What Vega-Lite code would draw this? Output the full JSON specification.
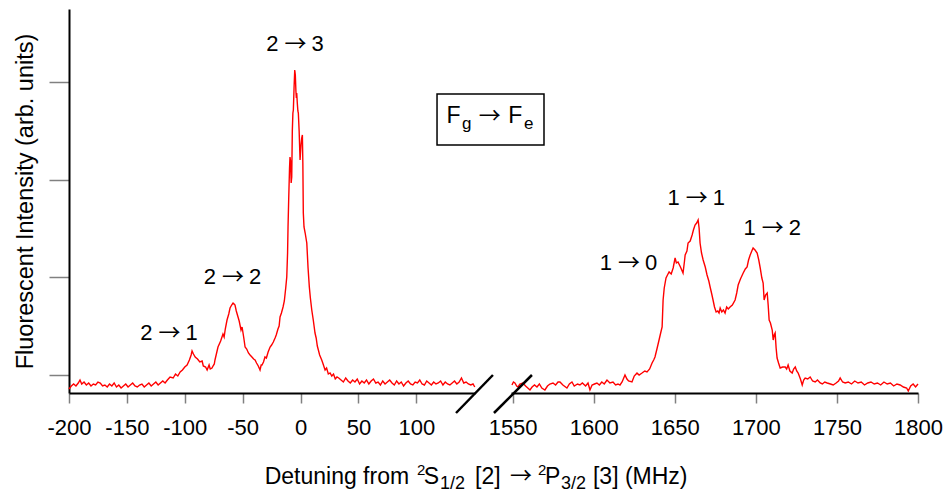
{
  "$schema": "https://vega.github.io/schema/vega-lite/v6.json",
  "width": 849,
  "height": 384,
  "autosize": {"type": "none"},
  "padding": {"left": 69, "top": 9, "right": 27, "bottom": 100},
  "background": "white",
  "config": {
    "view": {"stroke": null},
    "font": "Liberation Sans",
    "axis": {
      "grid": false,
      "domainColor": "#000000",
      "domainWidth": 2,
      "tickColor": "#808080",
      "tickWidth": 1.5,
      "labelColor": "#000000",
      "labelFont": "Liberation Sans",
      "labelFontSize": 22,
      "labelFlush": false,
      "labelOverlap": false,
      "labelExpr": "'' + datum.value",
      "titleFont": "Liberation Sans",
      "titleFontWeight": "normal",
      "titleColor": "#000000"
    }
  },
  "datasets": {
    "left": [
      {"x":-200,"y":4},{"x":-198,"y":7},{"x":-196,"y":9},{"x":-194,"y":7},{"x":-192,"y":10},{"x":-190.5,"y":13},{"x":-189,"y":9},{"x":-187,"y":11},{"x":-185,"y":8},{"x":-183,"y":10},{"x":-181,"y":7},{"x":-179,"y":9},{"x":-177,"y":8},{"x":-175,"y":11},{"x":-173,"y":10},{"x":-171,"y":7},{"x":-169,"y":8},{"x":-167,"y":6},{"x":-165,"y":9},{"x":-163,"y":7},{"x":-161,"y":10},{"x":-159,"y":6},{"x":-157,"y":8},{"x":-155,"y":5},{"x":-153,"y":7},{"x":-151,"y":9},{"x":-149,"y":6},{"x":-147,"y":8},{"x":-145,"y":10},{"x":-143,"y":7},{"x":-141,"y":6},{"x":-139,"y":8},{"x":-137,"y":9},{"x":-135,"y":6},{"x":-133,"y":8},{"x":-131,"y":10},{"x":-129,"y":7},{"x":-127,"y":9},{"x":-125,"y":11},{"x":-123,"y":8},{"x":-121,"y":10},{"x":-119,"y":12},{"x":-117,"y":10},{"x":-115,"y":13},{"x":-112.7,"y":16},{"x":-110,"y":15},{"x":-108,"y":19},{"x":-106,"y":17},{"x":-104,"y":21},{"x":-102,"y":23},{"x":-100,"y":26},{"x":-98,"y":28},{"x":-96,"y":33},{"x":-94.5,"y":38},{"x":-93.7,"y":42},{"x":-92.5,"y":39},{"x":-91,"y":36},{"x":-89,"y":34},{"x":-87,"y":31},{"x":-85,"y":32},{"x":-84,"y":27},{"x":-82,"y":26},{"x":-80.7,"y":23},{"x":-79,"y":28},{"x":-78,"y":24},{"x":-76.5,"y":25},{"x":-75.6,"y":27},{"x":-74.5,"y":29},{"x":-73.9,"y":33},{"x":-72.5,"y":40},{"x":-71.3,"y":46},{"x":-69,"y":52},{"x":-67,"y":59},{"x":-66,"y":56},{"x":-65,"y":64},{"x":-63.5,"y":73},{"x":-62,"y":79},{"x":-60.9,"y":85},{"x":-59.5,"y":88},{"x":-58.3,"y":90},{"x":-57.4,"y":89},{"x":-56.6,"y":88},{"x":-55.5,"y":82},{"x":-54,"y":76},{"x":-53,"y":72},{"x":-51.4,"y":63},{"x":-50.5,"y":66},{"x":-49,"y":55},{"x":-47.9,"y":46},{"x":-46.5,"y":44},{"x":-45,"y":40},{"x":-43.6,"y":38},{"x":-42,"y":36},{"x":-40.5,"y":34},{"x":-39.3,"y":33},{"x":-38,"y":30},{"x":-36.5,"y":27},{"x":-35,"y":23},{"x":-34,"y":28},{"x":-33.3,"y":28},{"x":-32,"y":31},{"x":-30.7,"y":36},{"x":-29.5,"y":35},{"x":-28,"y":41},{"x":-26.3,"y":46},{"x":-25,"y":48},{"x":-23.5,"y":51},{"x":-22,"y":55},{"x":-21,"y":58},{"x":-19.5,"y":64},{"x":-18.5,"y":67},{"x":-17.7,"y":76},{"x":-16.5,"y":80},{"x":-15.1,"y":86},{"x":-14,"y":92},{"x":-12.8,"y":105},{"x":-11.9,"y":116},{"x":-11.2,"y":140},{"x":-10.8,"y":166},{"x":-10.2,"y":195},{"x":-9.5,"y":225},{"x":-9.1,"y":236},{"x":-8.6,"y":232},{"x":-8.1,"y":210},{"x":-7.6,"y":216},{"x":-7.1,"y":262},{"x":-6.6,"y":280},{"x":-6.2,"y":283},{"x":-5.6,"y":305},{"x":-5.0,"y":323},{"x":-4.5,"y":318},{"x":-4.0,"y":302},{"x":-3.6,"y":295},{"x":-3.3,"y":300},{"x":-2.8,"y":290},{"x":-2.3,"y":282},{"x":-1.9,"y":280},{"x":-1.2,"y":262},{"x":-0.6,"y":240},{"x":-0.4,"y":233},{"x":0.4,"y":248},{"x":1.0,"y":255},{"x":1.6,"y":258},{"x":2.0,"y":230},{"x":2.4,"y":180},{"x":3.0,"y":166},{"x":4.0,"y":160},{"x":5.4,"y":150},{"x":6.5,"y":125},{"x":7.6,"y":106},{"x":8.5,"y":95},{"x":9.7,"y":83},{"x":11,"y":73},{"x":12.5,"y":60},{"x":13.5,"y":55},{"x":14.5,"y":47},{"x":15.4,"y":43},{"x":16.5,"y":38},{"x":18.3,"y":33},{"x":19.5,"y":29},{"x":21.2,"y":23},{"x":22.5,"y":25},{"x":24,"y":19},{"x":25.5,"y":20},{"x":27,"y":17},{"x":28.5,"y":19},{"x":30,"y":14},{"x":31.5,"y":16},{"x":33,"y":15},{"x":35,"y":13},{"x":37,"y":11},{"x":39,"y":15},{"x":41,"y":12},{"x":43,"y":10},{"x":45,"y":13},{"x":47,"y":11},{"x":49,"y":14},{"x":51,"y":9},{"x":53,"y":12},{"x":55,"y":10},{"x":57,"y":13},{"x":59,"y":9},{"x":61,"y":12},{"x":63,"y":14},{"x":65,"y":10},{"x":67,"y":11},{"x":69,"y":8},{"x":71,"y":12},{"x":73,"y":9},{"x":75,"y":11},{"x":77,"y":13},{"x":79,"y":10},{"x":81,"y":8},{"x":83,"y":12},{"x":85,"y":9},{"x":87,"y":11},{"x":89,"y":7},{"x":91,"y":10},{"x":93,"y":12},{"x":95,"y":9},{"x":97,"y":8},{"x":99,"y":11},{"x":101,"y":10},{"x":103,"y":13},{"x":105,"y":9},{"x":107,"y":8},{"x":109,"y":12},{"x":111,"y":10},{"x":113,"y":8},{"x":115,"y":11},{"x":117,"y":9},{"x":119,"y":10},{"x":121,"y":12},{"x":123,"y":8},{"x":125,"y":11},{"x":127,"y":9},{"x":129,"y":8},{"x":131,"y":10},{"x":133,"y":12},{"x":135,"y":9},{"x":137,"y":11},{"x":139,"y":15},{"x":141,"y":10},{"x":143,"y":11},{"x":145,"y":9},{"x":147,"y":8},{"x":149,"y":9},{"x":150.5,"y":6}
    ],
    "right": [
      {"x":1549.6,"y":8},{"x":1550.5,"y":11},{"x":1551.4,"y":10},{"x":1552.5,"y":7},{"x":1553.3,"y":6},{"x":1554.5,"y":9},{"x":1556.3,"y":10},{"x":1558,"y":7},{"x":1560.7,"y":3},{"x":1562,"y":6},{"x":1563.5,"y":8},{"x":1565,"y":6},{"x":1566.5,"y":9},{"x":1568,"y":5},{"x":1569.9,"y":3},{"x":1571.5,"y":7},{"x":1573,"y":9},{"x":1574.9,"y":10},{"x":1576.5,"y":8},{"x":1578,"y":11},{"x":1579.2,"y":11},{"x":1581,"y":8},{"x":1583.5,"y":5},{"x":1585,"y":9},{"x":1586.6,"y":11},{"x":1588,"y":7},{"x":1590,"y":9},{"x":1591.5,"y":8},{"x":1593,"y":10},{"x":1595,"y":7},{"x":1596.5,"y":10},{"x":1597.7,"y":3},{"x":1599,"y":8},{"x":1600.5,"y":9},{"x":1602,"y":10},{"x":1603.5,"y":8},{"x":1605,"y":11},{"x":1606.5,"y":9},{"x":1608.2,"y":13},{"x":1610,"y":10},{"x":1611.9,"y":11},{"x":1613.5,"y":8},{"x":1615,"y":9},{"x":1616.2,"y":8},{"x":1617.5,"y":11},{"x":1619.3,"y":18},{"x":1620.5,"y":14},{"x":1621.5,"y":12},{"x":1623.6,"y":11},{"x":1625,"y":17},{"x":1626.7,"y":20},{"x":1628,"y":18},{"x":1629.8,"y":20},{"x":1631.5,"y":22},{"x":1632.9,"y":21},{"x":1634.5,"y":24},{"x":1636,"y":30},{"x":1637,"y":33},{"x":1637.8,"y":36},{"x":1639,"y":44},{"x":1640.3,"y":53},{"x":1641.3,"y":60},{"x":1642.2,"y":66},{"x":1642.8,"y":93},{"x":1643.5,"y":105},{"x":1644.6,"y":115},{"x":1645.5,"y":118},{"x":1646.5,"y":121},{"x":1647.8,"y":119},{"x":1649.0,"y":125},{"x":1650.2,"y":135},{"x":1651,"y":130},{"x":1652.0,"y":131},{"x":1653.5,"y":126},{"x":1655.1,"y":120},{"x":1656,"y":132},{"x":1656.4,"y":138},{"x":1657.5,"y":142},{"x":1658.2,"y":150},{"x":1659.5,"y":152},{"x":1660.7,"y":158},{"x":1661.5,"y":163},{"x":1662.5,"y":168},{"x":1663.5,"y":170},{"x":1664.4,"y":173},{"x":1665,"y":165},{"x":1665.6,"y":150},{"x":1666.5,"y":140},{"x":1667.5,"y":133},{"x":1668.8,"y":126},{"x":1669.9,"y":118},{"x":1671,"y":112},{"x":1671.8,"y":106},{"x":1672.8,"y":99},{"x":1673.6,"y":93},{"x":1674.5,"y":86},{"x":1675.5,"y":81},{"x":1676.5,"y":82},{"x":1677.3,"y":80},{"x":1678.0,"y":85},{"x":1679,"y":81},{"x":1680,"y":83},{"x":1681.0,"y":80},{"x":1682,"y":86},{"x":1683,"y":84},{"x":1684.1,"y":86},{"x":1685.5,"y":88},{"x":1687.2,"y":93},{"x":1688.2,"y":100},{"x":1689.1,"y":108},{"x":1690.5,"y":114},{"x":1692.2,"y":120},{"x":1693.5,"y":124},{"x":1694.6,"y":126},{"x":1695.5,"y":133},{"x":1696.5,"y":138},{"x":1697.5,"y":142},{"x":1698.3,"y":145},{"x":1699.5,"y":143},{"x":1700.8,"y":140},{"x":1701.8,"y":133},{"x":1702.7,"y":125},{"x":1703.7,"y":115},{"x":1704.5,"y":110},{"x":1705.1,"y":93},{"x":1706,"y":98},{"x":1707.0,"y":100},{"x":1707.6,"y":88},{"x":1708.2,"y":73},{"x":1709,"y":70},{"x":1710.1,"y":63},{"x":1710.7,"y":53},{"x":1711.3,"y":58},{"x":1711.9,"y":60},{"x":1712.5,"y":45},{"x":1713.1,"y":35},{"x":1714,"y":30},{"x":1715.0,"y":25},{"x":1716.5,"y":26},{"x":1718.1,"y":26},{"x":1719,"y":24},{"x":1719.9,"y":28},{"x":1721,"y":22},{"x":1722.4,"y":20},{"x":1723.3,"y":24},{"x":1724.3,"y":26},{"x":1725.2,"y":22},{"x":1726.1,"y":20},{"x":1727.5,"y":14},{"x":1728.6,"y":8},{"x":1729.5,"y":13},{"x":1730.4,"y":15},{"x":1732,"y":14},{"x":1733.5,"y":16},{"x":1735,"y":12},{"x":1736.6,"y":11},{"x":1738,"y":13},{"x":1739.7,"y":10},{"x":1741,"y":9},{"x":1742.5,"y":11},{"x":1744.0,"y":10},{"x":1746,"y":9},{"x":1747.7,"y":8},{"x":1749.5,"y":10},{"x":1751,"y":12},{"x":1752.0,"y":15},{"x":1753.5,"y":11},{"x":1755.1,"y":10},{"x":1757,"y":11},{"x":1759,"y":9},{"x":1761,"y":12},{"x":1763,"y":10},{"x":1765,"y":11},{"x":1767,"y":8},{"x":1769,"y":10},{"x":1771,"y":11},{"x":1773,"y":9},{"x":1775,"y":10},{"x":1777,"y":8},{"x":1779,"y":11},{"x":1781,"y":9},{"x":1783,"y":10},{"x":1785,"y":7},{"x":1787,"y":9},{"x":1789,"y":8},{"x":1791,"y":6},{"x":1793,"y":5},{"x":1794,"y":2},{"x":1795.5,"y":7},{"x":1797,"y":9},{"x":1798.5,"y":6},{"x":1800,"y":9}
    ],
    "leftLabels": [
      {"x":-113.1,"y":60,"a":"2","b":"1"},
      {"x":-58.3,"y":116,"a":"2","b":"2"},
      {"x":-4.3,"y":349,"a":"2","b":"3"}
    ],
    "rightLabels": [
      {"x":1621.8,"y":130,"a":"1","b":"0"},
      {"x":1663.5,"y":195,"a":"1","b":"1"},
      {"x":1710.4,"y":165,"a":"1","b":"2"}
    ],
    "bigPieces": [
      {"x":126,"y":270,"t":"F"},
      {"x":179.5,"y":270,"t":"F"},
      {"x":-31,"y":-91,"t":"Detuning from"},
      {"x":106.5,"y":-91,"t":"S"},
      {"x":150.7,"y":-91,"t":"[2]"},
      {"x":211.1,"y":-91,"t":"P"},
      {"x":252.6,"y":-91,"t":"[3] (MHz)"}
    ],
    "supPieces": [
      {"x":100.5,"y":-82,"t":"2"},
      {"x":205.1,"y":-82,"t":"2"}
    ],
    "subPieces": [
      {"x":139.5,"y":264,"t":"g"},
      {"x":193.1,"y":264,"t":"e"}
    ],
    "titleSubPieces": [
      {"x":120.5,"y":-96,"t":"1/2"},
      {"x":224.9,"y":-96,"t":"3/2"}
    ],
    "arrows": [
      {"x":163.4,"y":277},
      {"x":190.4,"y":-83}
    ],
    "box": [{"x":117.9,"x2":210.3,"y":248,"y2":299}],
    "slashL": [{"x":134.3,"x2":166.2,"y":-20,"y2":18}],
    "slashR": [{"x":1538.5,"x2":1561.9,"y":-20,"y2":18}]
  },
  "encoding": {
    "y": {
      "field": "y",
      "type": "quantitative",
      "scale": {"domain": [0, 384], "nice": false, "zero": false},
      "axis": {
        "values": [18, 116, 213, 311],
        "labels": false,
        "tickSize": 20,
        "title": "Fluorescent Intensity (arb. units)",
        "titleFontSize": 23.5,
        "titlePadding": 11
      }
    }
  },
  "layer": [
    {
      "encoding": {
        "x": {
          "field": "x",
          "type": "quantitative",
          "scale": {"domain": [-200, 150.7], "range": [0, 406], "nice": false, "zero": false},
          "axis": {
            "values": [-200, -150, -100, -50, 0, 50, 100],
            "orient": "bottom",
            "tickSize": 10,
            "labelPadding": 14,
            "title": null
          }
        }
      },
      "layer": [
        {
          "data": {"name": "left"},
          "mark": {"type": "line", "color": "#ff0000", "strokeWidth": 1.4, "interpolate": "linear"}
        },
        {
          "data": {"name": "leftLabels"},
          "mark": {"type": "text", "fontSize": 22, "align": "right", "baseline": "middle", "dx": -17, "color": "#000000"},
          "encoding": {"text": {"field": "a"}}
        },
        {
          "data": {"name": "leftLabels"},
          "mark": {"type": "text", "fontSize": 22, "font": "Noto Sans CJK JP", "align": "center", "baseline": "middle", "color": "#000000", "text": "→"}
        },
        {
          "data": {"name": "leftLabels"},
          "mark": {"type": "text", "fontSize": 22, "align": "left", "baseline": "middle", "dx": 16, "color": "#000000"},
          "encoding": {"text": {"field": "b"}}
        },
        {
          "data": {"name": "bigPieces"},
          "mark": {"type": "text", "fontSize": 23, "align": "left", "baseline": "alphabetic", "color": "#000000"},
          "encoding": {"text": {"field": "t"}}
        },
        {
          "data": {"name": "supPieces"},
          "mark": {"type": "text", "fontSize": 15, "align": "left", "baseline": "alphabetic", "color": "#000000"},
          "encoding": {"text": {"field": "t"}}
        },
        {
          "data": {"name": "subPieces"},
          "mark": {"type": "text", "fontSize": 17, "align": "left", "baseline": "alphabetic", "color": "#000000"},
          "encoding": {"text": {"field": "t"}}
        },
        {
          "data": {"name": "titleSubPieces"},
          "mark": {"type": "text", "fontSize": 18, "align": "left", "baseline": "alphabetic", "color": "#000000"},
          "encoding": {"text": {"field": "t"}}
        },
        {
          "data": {"name": "arrows"},
          "mark": {"type": "text", "fontSize": 22, "font": "Noto Sans CJK JP", "align": "center", "baseline": "middle", "color": "#000000", "text": "→"}
        },
        {
          "data": {"name": "box"},
          "mark": {"type": "rect", "fill": "transparent", "stroke": "#000000", "strokeWidth": 1.5},
          "encoding": {"x2": {"field": "x2"}, "y2": {"field": "y2"}}
        },
        {
          "data": {"name": "slashL"},
          "mark": {"type": "rule", "color": "#000000", "strokeWidth": 2.5},
          "encoding": {"x2": {"field": "x2"}, "y2": {"field": "y2"}}
        }
      ]
    },
    {
      "encoding": {
        "x": {
          "field": "x",
          "type": "quantitative",
          "scale": {"domain": [1549, 1800], "range": [442, 849], "nice": false, "zero": false},
          "axis": {
            "values": [1550, 1600, 1650, 1700, 1750, 1800],
            "orient": "bottom",
            "tickSize": 10,
            "labelPadding": 14,
            "title": null
          }
        }
      },
      "layer": [
        {
          "data": {"name": "right"},
          "mark": {"type": "line", "color": "#ff0000", "strokeWidth": 1.4, "interpolate": "linear"}
        },
        {
          "data": {"name": "rightLabels"},
          "mark": {"type": "text", "fontSize": 22, "align": "right", "baseline": "middle", "dx": -17, "color": "#000000"},
          "encoding": {"text": {"field": "a"}}
        },
        {
          "data": {"name": "rightLabels"},
          "mark": {"type": "text", "fontSize": 22, "font": "Noto Sans CJK JP", "align": "center", "baseline": "middle", "color": "#000000", "text": "→"}
        },
        {
          "data": {"name": "rightLabels"},
          "mark": {"type": "text", "fontSize": 22, "align": "left", "baseline": "middle", "dx": 16, "color": "#000000"},
          "encoding": {"text": {"field": "b"}}
        },
        {
          "data": {"name": "slashR"},
          "mark": {"type": "rule", "color": "#000000", "strokeWidth": 2.5},
          "encoding": {"x2": {"field": "x2"}, "y2": {"field": "y2"}}
        }
      ]
    }
  ],
  "resolve": {"scale": {"x": "independent"}, "axis": {"x": "independent"}}
}
